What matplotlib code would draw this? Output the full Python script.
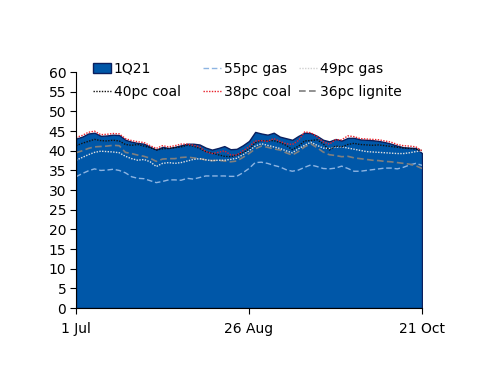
import numpy as np
import pandas as pd
import matplotlib
matplotlib.use("Agg")
import matplotlib.pyplot as plt
from matplotlib.patches import Patch
from matplotlib.lines import Line2D

dates = pd.date_range("2020-07-01", periods=57, freq="2D")

q1_21 = [43.1, 43.6, 44.4, 44.6, 43.8, 43.9, 44.1, 44.0, 42.8, 42.3,
         42.0, 41.8, 41.0, 40.3, 41.0, 40.7, 41.0, 41.4, 41.8, 41.8,
         41.6, 40.8, 40.3, 40.7, 41.2, 40.4, 40.5, 41.4, 42.5, 44.8,
         44.4, 44.1, 44.6, 43.6, 43.2, 42.8, 43.8, 44.6, 44.5, 43.8,
         42.8, 42.4, 43.0, 42.6, 43.3, 43.3, 42.9, 42.8, 42.7, 42.5,
         42.2, 41.8, 41.3, 40.9, 40.8, 40.7, 39.4]

gas_55 = [33.4, 34.2, 34.9, 35.4, 35.0, 35.1, 35.3, 35.0, 34.4, 33.4,
          33.0, 32.9, 32.4, 31.9, 32.2, 32.6, 32.6, 32.5, 33.0, 32.8,
          33.2, 33.6, 33.6, 33.6, 33.6, 33.5, 33.5, 34.4, 35.5, 37.0,
          37.1, 36.8, 36.3, 35.9, 35.2, 34.8, 35.1, 35.8, 36.4, 36.0,
          35.5, 35.4, 35.6, 36.1, 35.5, 34.8, 34.8, 35.0, 35.2, 35.4,
          35.6, 35.6, 35.4, 35.8, 36.4, 36.8, 36.3]

gas_49 = [37.6, 38.3, 39.0, 39.6, 39.9, 39.8, 39.7, 39.5, 38.6, 38.0,
          37.6, 37.8, 37.2, 36.0, 36.8, 37.0, 36.8, 37.0, 37.4, 37.8,
          38.0, 37.7, 37.5, 37.6, 37.6, 37.8, 38.1, 39.0, 40.0, 41.2,
          41.8, 41.4, 41.0, 40.6, 40.0, 39.5, 40.5, 41.4, 42.2, 41.4,
          40.7, 40.6, 40.9, 41.0, 40.7, 40.4, 40.1, 39.8, 39.7, 39.6,
          39.5, 39.4, 39.3, 39.3, 39.5, 39.8, 40.0]

coal_40 = [41.3, 41.9, 42.4, 42.9, 42.6, 42.5, 42.7, 42.5, 41.6, 41.4,
           41.6, 41.2, 40.8, 40.2, 40.5, 40.6, 40.8, 41.0, 41.4, 41.2,
           40.6, 39.8, 39.4, 39.0, 38.6, 38.5, 38.9, 39.5, 40.4, 42.0,
           42.6, 42.5, 42.6, 42.1, 41.4, 40.3, 41.2, 42.5, 42.6, 42.8,
           41.8, 40.2, 41.2, 41.0, 41.6, 41.9, 41.6, 41.5, 41.4, 41.5,
           41.3, 41.1, 40.9, 40.7, 40.6, 40.4, 40.1]

coal_38 = [43.4, 43.9, 44.7, 45.0, 44.1, 44.2, 44.4, 44.3, 43.1, 42.6,
           42.3, 42.1, 41.3, 40.6, 41.3, 41.0, 41.3, 41.7, 41.7, 41.4,
           41.0, 39.8, 39.3, 39.6, 40.0, 39.0, 38.9, 40.0, 41.0, 42.5,
           42.6, 42.4, 43.1, 42.4, 41.8, 41.6, 42.6, 44.8, 44.6, 43.6,
           42.3, 41.7, 42.8, 42.8, 43.8, 43.6, 43.1, 43.0, 42.9, 42.8,
           42.5, 42.2, 41.6, 41.3, 41.2, 41.0, 40.0]

lignite_36 = [39.5, 40.0, 40.6, 41.0, 41.1, 41.2, 41.4, 41.3, 39.6, 39.3,
              38.9, 38.6, 38.1, 37.3, 37.9, 38.0, 38.0, 38.3, 38.4, 38.2,
              38.0, 37.7, 37.5, 37.6, 37.4, 37.2, 37.4, 38.3, 39.3, 40.5,
              41.2, 40.9, 40.5, 40.2, 39.5, 38.9, 39.8, 41.0, 41.8, 40.8,
              39.7, 39.0, 38.8, 38.5, 38.6, 38.2, 38.0, 37.8, 37.6, 37.5,
              37.3, 37.2, 37.0, 36.8, 36.6, 36.2, 35.5]

tick_dates = pd.to_datetime(["2020-07-01", "2020-08-26", "2020-10-21"])
tick_labels = ["1 Jul", "26 Aug", "21 Oct"]

fill_col = "#0057a8"
edge_col = "#0b1f5e"

fig = plt.figure(figsize=(5, 3.86), dpi=100)
ax = fig.add_axes([0.152, 0.202, 0.692, 0.611])

ax.fill_between(dates, q1_21, 0, facecolor=fill_col, edgecolor=edge_col, linewidth=1.0)
ax.plot(dates, gas_55, color="#8db4e2", lw=1.0, ls=(0, (4, 2)))
ax.plot(dates, lignite_36, color="#7f7f7f", lw=1.2, ls=(0, (4, 2)))
ax.plot(dates, gas_49, color="#e0e0e0", lw=1.0, ls=(0, (1, 1)))
ax.plot(dates, coal_40, color="#111111", lw=1.0, ls=(0, (1, 1)))
ax.plot(dates, coal_38, color="#e8202a", lw=1.0, ls=(0, (1, 1)))

ax.set_xlim(tick_dates[0], tick_dates[-1])
ax.set_ylim(0, 60)
ax.set_yticks(np.arange(0, 61, 5))
ax.set_xticks(tick_dates)
ax.set_xticklabels(tick_labels)
ax.tick_params(labelsize=10, length=4, width=0.8, direction="out", pad=3)
ax.tick_params(axis="x", pad=6)
for s in ["top", "right"]:
    ax.spines[s].set_visible(False)
for s in ["left", "bottom"]:
    ax.spines[s].set_linewidth(0.8)

# legend: three columns, two rows
cols = [
    [Patch(facecolor=fill_col, edgecolor=edge_col, label="1Q21"),
     Line2D([], [], color="#111111", lw=1.0, ls=(0, (1, 1)), label="40pc coal")],
    [Line2D([], [], color="#8db4e2", lw=1.0, ls=(0, (4, 2)), label="55pc gas"),
     Line2D([], [], color="#e8202a", lw=1.0, ls=(0, (1, 1)), label="38pc coal")],
    [Line2D([], [], color="#d0d0d0", lw=1.0, ls=(0, (1, 1)), label="49pc gas"),
     Line2D([], [], color="#7f7f7f", lw=1.2, ls=(0, (4, 2)), label="36pc lignite")],
]
xs = [93, 203, 299]
for handles, x0 in zip(cols, xs):
    fig.legend(handles=handles, loc="upper left",
               bbox_to_anchor=(x0 / 500, 1 - 62 / 386),
               frameon=False, fontsize=10, handlelength=1.3,
               handleheight=0.8, handletextpad=0.2, labelspacing=0.62,
               borderpad=0, borderaxespad=0)

fig.savefig("out.png", dpi=100)
